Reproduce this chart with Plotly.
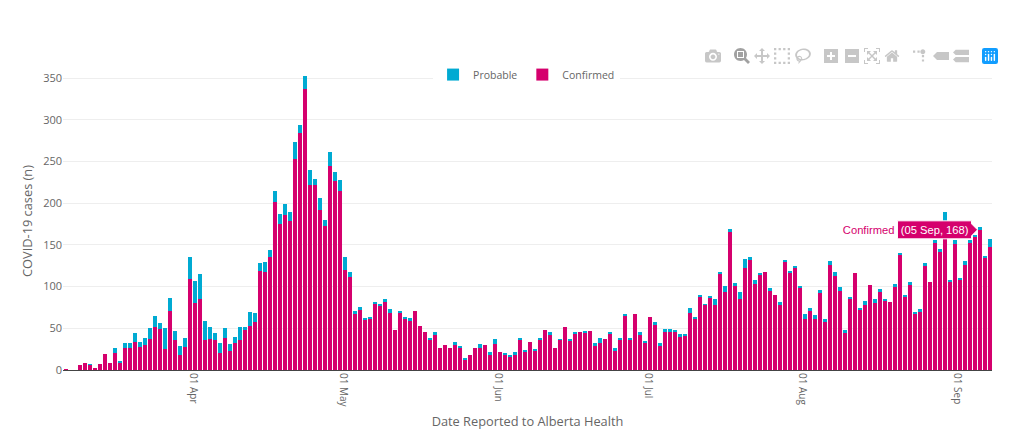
import pandas as pd
import plotly.graph_objects as go

first_day = "2020-03-06"

confirmed = [1,0,0,6,8,6,2,7,19,8,20,8,26,26,34,28,30,37,51,49,25,71,36,18,28,109,80,85,36,37,36,20,38,
             23,32,36,48,53,57,119,118,135,201,175,186,179,253,284,337,222,222,192,173,245,226,215,120,112,67,73,60,61,79,
             77,82,68,48,68,61,59,71,53,46,37,42,26,30,26,31,26,12,18,26,26,30,18,31,22,18,16,18,36,22,34,23,
             37,48,42,26,36,52,35,44,46,44,47,29,32,37,44,23,36,65,37,67,43,32,64,54,29,46,46,45,39,41,68,61,
             87,78,87,78,116,94,166,101,85,122,132,103,114,118,95,90,78,130,117,122,98,61,71,61,92,57,126,113,
             95,44,85,116,72,78,102,80,94,83,82,100,138,87,103,67,70,125,106,152,142,179,105,151,108,126,152,160,168,134,148]

total = [1,0,0,6,8,7,2,7,19,8,26,11,32,32,44,34,38,50,65,56,50,86,47,29,38,135,107,115,59,51,44,32,50,
         31,40,51,52,70,68,128,130,144,214,187,199,189,273,294,352,240,229,206,180,261,237,228,135,117,71,75,62,64,82,
         79,85,73,48,71,64,62,71,53,46,38,45,26,30,26,33,29,14,18,26,31,30,21,37,22,20,18,22,38,23,34,25,
         38,48,45,26,37,52,37,46,46,47,47,32,38,37,46,26,38,67,38,67,45,35,64,58,32,49,49,48,43,43,74,64,
         90,79,88,85,118,101,169,104,93,133,135,108,116,118,98,90,82,132,119,125,101,67,74,66,96,61,131,118,
         100,48,88,116,74,83,102,85,97,85,82,103,140,90,105,70,73,128,106,156,145,189,108,156,110,131,156,162,171,137,157]

probable = [t - c for t, c in zip(total, confirmed)]
dates = pd.date_range(first_day, periods=len(confirmed))

fig = go.Figure()
fig.add_trace(go.Bar(x=dates, y=confirmed, name="Confirmed", marker_color="#d5006d"))
fig.add_trace(go.Bar(x=dates, y=probable, name="Probable", marker_color="#00aad2"))

fig.update_layout(
    template="none",
    width=1002, height=399,
    margin=dict(l=63, r=10, t=29, b=72),
    barmode="stack", bargap=0.2,
    hovermode="closest",
    hoverlabel=dict(font_size=11.2),
    font=dict(family="Open Sans, sans-serif", color="#666", size=11),
    legend=dict(orientation="h", x=0.499, xanchor="center", y=1.04, yanchor="top", traceorder="reversed", font=dict(size=10.5)),
    modebar=dict(orientation="h", color="rgba(68,68,68,0.3)", activecolor="rgba(68,68,68,0.5)"),
)
fig.update_xaxes(
    title_text="Date Reported to Alberta Health", title_font_size=12.8, title_standoff=10,
    tickformat="%d %b", hoverformat="%d %b", dtick="M1", tick0="2020-04-01",
    tickangle=90, tickfont_size=10, showgrid=False, ticks="", ticklabelshift=-2,
    showline=True, linecolor="#444", linewidth=1, zeroline=False,
    range=["2020-03-05 12:00", "2020-09-07 12:00"],
)
fig.update_yaxes(
    title_text="COVID-19 cases (n)", title_font_size=12.8, title_standoff=7,
    tickvals=[0, 50, 100, 150, 200, 250, 300, 350], tickfont_size=11,
    showgrid=True, gridcolor="#eee", zeroline=False, range=[0, 357.2],
)

# page offset, the two old hover buttons + blue logo, then fire the hover label on 05 Sep
page_js = """
document.body.style.margin = '43px 0 0 0';
var css = document.createElement('style');
css.textContent = '.modebar-btn{padding:3px 2.2px !important}'
  + '.modebar-btn--logo svg rect:first-of-type{fill:#119DFF !important}'
  + '.modebar-btn--logo svg path,.modebar-btn--logo svg circle,.modebar-btn--logo svg rect:not(:first-of-type){fill:#fff !important}';
document.head.appendChild(css);
var gd = document.getElementsByClassName('plotly-graph-div')[0];
setTimeout(function () {
  Plotly.react(gd, gd.data, gd.layout, {displayModeBar: true, modeBarButtons: [
    ['toImage'],
    ['zoom2d', 'pan2d', 'select2d', 'lasso2d'],
    ['zoomIn2d', 'zoomOut2d', 'autoScale2d', 'resetScale2d'],
    ['toggleSpikelines',
     {name: 'hoverClosest', title: 'Show closest data on hover', icon: Plotly.Icons.tooltip_basic,
      click: function () { Plotly.relayout(gd, {hovermode: 'closest'}); }},
     {name: 'hoverCompare', title: 'Compare data on hover', icon: Plotly.Icons.tooltip_compare,
      click: function () { Plotly.relayout(gd, {hovermode: 'x'}); }}]
  ]}).then(function () {
    Plotly.Fx.hover(gd, [{curveNumber: 0, pointNumber: 183}]);
  });
}, 200);
"""

fig.write_html("out.html", post_script=page_js, config=dict(displayModeBar=True))
